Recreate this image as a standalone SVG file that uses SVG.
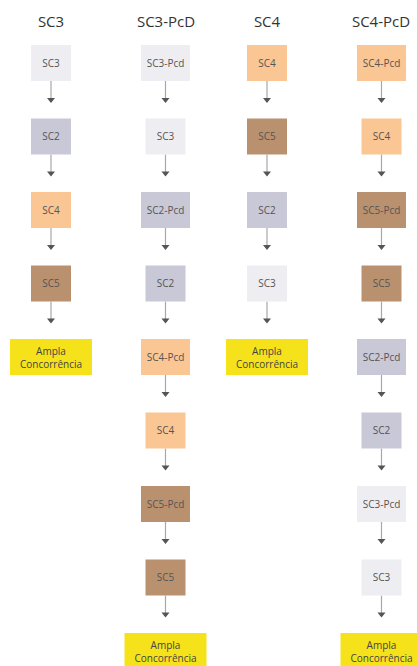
<svg xmlns="http://www.w3.org/2000/svg" width="417" height="666" viewBox="0 0 417 666">
<style>
.hd{font-family:"Open Sans","Liberation Sans",sans-serif;font-size:15px;fill:#333;text-anchor:middle}
.t{font-family:"Open Sans","Liberation Sans",sans-serif;font-size:10px;fill:#555;text-anchor:middle}
.ta{font-family:"Open Sans","Liberation Sans",sans-serif;font-size:10px;fill:#444;text-anchor:middle}
.l3{fill:#EEEEF2}.l2{fill:#C9C8D7}.l4{fill:#F9C694}.l5{fill:#B9916F}.ly{fill:#F5E21A}
.cl{stroke:#A8A8A8;stroke-width:1.2;fill:none}
.ah{fill:#555}
</style>
<rect width="417" height="666" fill="#fff"/>
<g id="headers">
<text class="hd" x="51" y="27">SC3</text>
<text class="hd" x="166" y="27">SC3-PcD</text>
<text class="hd" x="267" y="27">SC4</text>
<text class="hd" x="381" y="27">SC4-PcD</text>
</g>
<g id="connectors">
<!-- col1 x=51 -->
<path class="cl" d="M51 81V99M51 154.5V172.5M51 228V246M51 301.5V319.5"/>
<path class="ah" d="M47 98H55L51 103ZM47 171.5H55L51 176.5ZM47 245H55L51 250ZM47 318.5H55L51 323.5Z"/>
<!-- col2 x=165.5 -->
<path class="cl" d="M165.5 81V99M165.5 154.5V172.5M165.5 228V246M165.5 301.5V319.5M165.5 375V393M165.5 448.5V466.5M165.5 522V540M165.5 595.5V613.5"/>
<path class="ah" d="M161.5 98H169.5L165.5 103ZM161.5 171.5H169.5L165.5 176.5ZM161.5 245H169.5L165.5 250ZM161.5 318.5H169.5L165.5 323.5ZM161.5 392H169.5L165.5 397ZM161.5 465.5H169.5L165.5 470.5ZM161.5 539H169.5L165.5 544ZM161.5 612.5H169.5L165.5 617.5Z"/>
<!-- col3 x=267 -->
<path class="cl" d="M267 81V99M267 154.5V172.5M267 228V246M267 301.5V319.5"/>
<path class="ah" d="M263 98H271L267 103ZM263 171.5H271L267 176.5ZM263 245H271L267 250ZM263 318.5H271L267 323.5Z"/>
<!-- col4 x=381.5 -->
<path class="cl" d="M381.5 81V99M381.5 154.5V172.5M381.5 228V246M381.5 301.5V319.5M381.5 375V393M381.5 448.5V466.5M381.5 522V540M381.5 595.5V613.5"/>
<path class="ah" d="M377.5 98H385.5L381.5 103ZM377.5 171.5H385.5L381.5 176.5ZM377.5 245H385.5L381.5 250ZM377.5 318.5H385.5L381.5 323.5ZM377.5 392H385.5L381.5 397ZM377.5 465.5H385.5L381.5 470.5ZM377.5 539H385.5L381.5 544ZM377.5 612.5H385.5L381.5 617.5Z"/>
</g>
<!-- Column 1: SC3 -->
<g id="c1-sc3"><rect class="l3" x="31" y="45" width="40" height="36"/><text class="t" x="51" y="66.5">SC3</text></g>
<g id="c1-sc2"><rect class="l2" x="31" y="118.5" width="40" height="36"/><text class="t" x="51" y="140">SC2</text></g>
<g id="c1-sc4"><rect class="l4" x="31" y="192" width="40" height="36"/><text class="t" x="51" y="213.5">SC4</text></g>
<g id="c1-sc5"><rect class="l5" x="31" y="265.5" width="40" height="36"/><text class="t" x="51" y="287">SC5</text></g>
<g id="c1-ampla"><rect class="ly" x="10" y="339" width="82" height="36"/><text class="ta" x="51" y="354.5">Ampla</text><text class="ta" x="51" y="367.5">Concorrência</text></g>
<!-- Column 2: SC3-PcD -->
<g id="c2-sc3pcd"><rect class="l3" x="141" y="45" width="49" height="36"/><text class="t" x="165.5" y="66.5">SC3-Pcd</text></g>
<g id="c2-sc3"><rect class="l3" x="145.5" y="118.5" width="40" height="36"/><text class="t" x="165.5" y="140">SC3</text></g>
<g id="c2-sc2pcd"><rect class="l2" x="141" y="192" width="49" height="36"/><text class="t" x="165.5" y="213.5">SC2-Pcd</text></g>
<g id="c2-sc2"><rect class="l2" x="145.5" y="265.5" width="40" height="36"/><text class="t" x="165.5" y="287">SC2</text></g>
<g id="c2-sc4pcd"><rect class="l4" x="141" y="339" width="49" height="36"/><text class="t" x="165.5" y="360.5">SC4-Pcd</text></g>
<g id="c2-sc4"><rect class="l4" x="145.5" y="412.5" width="40" height="36"/><text class="t" x="165.5" y="434">SC4</text></g>
<g id="c2-sc5pcd"><rect class="l5" x="141" y="486" width="49" height="36"/><text class="t" x="165.5" y="507.5">SC5-Pcd</text></g>
<g id="c2-sc5"><rect class="l5" x="145.5" y="559.5" width="40" height="36"/><text class="t" x="165.5" y="581">SC5</text></g>
<g id="c2-ampla"><rect class="ly" x="124.5" y="633" width="82" height="36"/><text class="ta" x="165.5" y="648.5">Ampla</text><text class="ta" x="165.5" y="661.5">Concorrência</text></g>
<!-- Column 3: SC4 -->
<g id="c3-sc4"><rect class="l4" x="247" y="45" width="40" height="36"/><text class="t" x="267" y="66.5">SC4</text></g>
<g id="c3-sc5"><rect class="l5" x="247" y="118.5" width="40" height="36"/><text class="t" x="267" y="140">SC5</text></g>
<g id="c3-sc2"><rect class="l2" x="247" y="192" width="40" height="36"/><text class="t" x="267" y="213.5">SC2</text></g>
<g id="c3-sc3"><rect class="l3" x="247" y="265.5" width="40" height="36"/><text class="t" x="267" y="287">SC3</text></g>
<g id="c3-ampla"><rect class="ly" x="226" y="339" width="82" height="36"/><text class="ta" x="267" y="354.5">Ampla</text><text class="ta" x="267" y="367.5">Concorrência</text></g>
<!-- Column 4: SC4-PcD -->
<g id="c4-sc4pcd"><rect class="l4" x="357" y="45" width="49" height="36"/><text class="t" x="381.5" y="66.5">SC4-Pcd</text></g>
<g id="c4-sc4"><rect class="l4" x="361.5" y="118.5" width="40" height="36"/><text class="t" x="381.5" y="140">SC4</text></g>
<g id="c4-sc5pcd"><rect class="l5" x="357" y="192" width="49" height="36"/><text class="t" x="381.5" y="213.5">SC5-Pcd</text></g>
<g id="c4-sc5"><rect class="l5" x="361.5" y="265.5" width="40" height="36"/><text class="t" x="381.5" y="287">SC5</text></g>
<g id="c4-sc2pcd"><rect class="l2" x="357" y="339" width="49" height="36"/><text class="t" x="381.5" y="360.5">SC2-Pcd</text></g>
<g id="c4-sc2"><rect class="l2" x="361.5" y="412.5" width="40" height="36"/><text class="t" x="381.5" y="434">SC2</text></g>
<g id="c4-sc3pcd"><rect class="l3" x="357" y="486" width="49" height="36"/><text class="t" x="381.5" y="507.5">SC3-Pcd</text></g>
<g id="c4-sc3"><rect class="l3" x="361.5" y="559.5" width="40" height="36"/><text class="t" x="381.5" y="581">SC3</text></g>
<g id="c4-ampla"><rect class="ly" x="340.5" y="633" width="82" height="36"/><text class="ta" x="381.5" y="648.5">Ampla</text><text class="ta" x="381.5" y="661.5">Concorrência</text></g>
</svg>
